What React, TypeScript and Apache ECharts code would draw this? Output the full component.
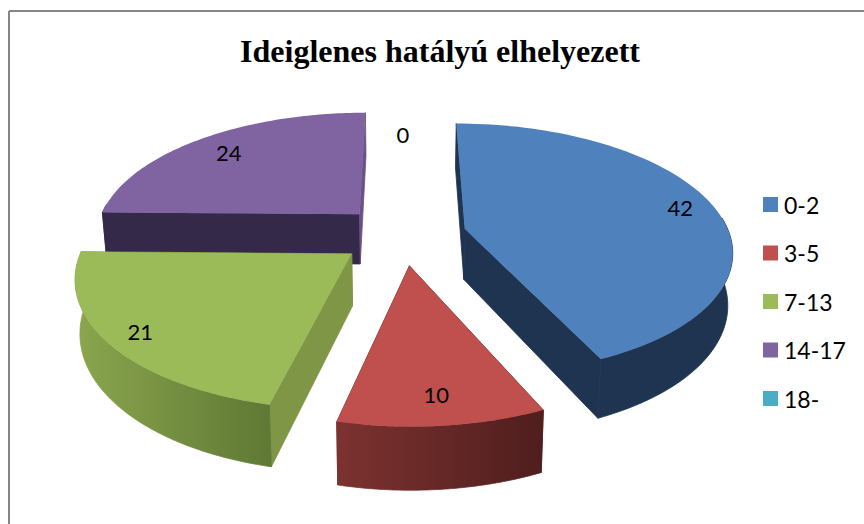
import React, { useEffect, useRef } from "react";
import * as echarts from "echarts";

const titleText = "Ideiglenes hatályú elhelyezett";
const categories = ["0-2", "3-5", "7-13", "14-17", "18-"];
const values = [42, 10, 21, 24, 0];
const topColors = ["#4f81bd", "#c0504d", "#9bbb59", "#8064a2", "#4bacc6"];
const faceColors = ["#1f3450", "#6b2a28", "#7e9645", "#6a5288", "#2f7f94"];
const startFaceColors = ["#1f3450", "#6b2a28", "#7e9645", "#35294a", "#2f7f94"];
const wallFrom = ["#1f3450", "#7c3230", "#8ba64e", "#35294a", "#2f7f94"];
const wallTo = ["#1f3450", "#4f1e1d", "#5f7834", "#35294a", "#2f7f94"];
const labelRadii = [0.87, 0.83, 0.88, 0.81, 0.93];
const paintOrder = [3, 0, 2, 1, 4];

const total = values.reduce((a, b) => a + b, 0);
const starts = values.map((_, i) => values.slice(0, i).reduce((a, b) => a + b, 0));

const CX = 403;
const CY = 235;
const RX = 265;
const RY = 124;
const K = 0.16;
const EXPLODE = 0.24;
const DEPTH = 51;
const SHRINK = 0.985;
const STEPS = 90;

function pt(theta: number, r: number, ex: number, ey: number, lower = false): number[] {
  const X = r * Math.sin(theta) + ex;
  const Y = -r * Math.cos(theta) + ey;
  const s = 1 / (1 - K * Y);
  const x = CX + RX * X * s;
  const y = CY + RY * Y * s;
  if (!lower) return [x, y];
  return [CX + (x - CX) * SHRINK, y + DEPTH * s];
}

function renderSlice(idx: number) {
  return (_params: any, api: any) => {
    const value = api.value(0);
    const start = api.value(1);
    const a0 = (start / total) * Math.PI * 2;
    const a1 = ((start + value) / total) * Math.PI * 2;
    const mid = (a0 + a1) / 2;
    const text = {
      type: "text",
      style: {
        text: String(value),
        fill: "#000",
        fontSize: 22,
        fontFamily: "Lato",
        align: "center",
        verticalAlign: "middle",
      },
    } as any;
    if (value === 0) {
      const p = pt(a0, labelRadii[idx], 0, 0);
      text.style.x = p[0];
      text.style.y = p[1];
      return { type: "group", children: [text] };
    }
    const ex = EXPLODE * Math.sin(mid);
    const ey = -EXPLODE * Math.cos(mid);
    const upper: number[][] = [];
    const lower: number[][] = [];
    const wallUp: number[][] = [];
    const wallDown: number[][] = [];
    for (let i = 0; i <= STEPS; i++) {
      const t = a0 + ((a1 - a0) * i) / STEPS;
      const u = pt(t, 1, ex, ey);
      const l = pt(t, 1, ex, ey, true);
      upper.push(u);
      lower.push(l);
      if (Math.cos(t) <= 0.1) {
        wallUp.push(u);
        wallDown.push(l);
      }
    }
    const apexT = pt(0, 0, ex, ey);
    const apexB = pt(0, 0, ex, ey, true);
    const face = (u: number[], l: number[], fill: string) => ({
      type: "polygon",
      shape: { points: [apexT, u, l, apexB] },
      style: { fill, stroke: fill, lineWidth: 0.8 },
    });
    const children: any[] = [
      face(upper[0], lower[0], startFaceColors[idx]),
      face(upper[STEPS], lower[STEPS], faceColors[idx]),
    ];
    if (wallUp.length > 1) {
      const grad = new echarts.graphic.LinearGradient(0, 0, 1, 0, [
        { offset: 0, color: wallFrom[idx] },
        { offset: 1, color: wallTo[idx] },
      ]);
      children.push({
        type: "polygon",
        shape: { points: [...wallUp, ...wallDown.slice().reverse()] },
        style: { fill: grad, stroke: grad, lineWidth: 0.8 },
      });
    }
    children.push({
      type: "polygon",
      shape: { points: [apexT, ...upper] },
      style: { fill: topColors[idx] },
    });
    const lp = pt(mid, labelRadii[idx], ex, ey);
    text.style.x = lp[0];
    text.style.y = lp[1];
    children.push(text);
    return { type: "group", children };
  };
}

export default function App() {
  const ref = useRef<HTMLDivElement>(null);
  useEffect(() => {
    const chart = echarts.init(ref.current!, null, { renderer: "svg" });
    chart.setOption({
      animation: false,
      backgroundColor: "#fff",
      title: {
        text: titleText,
        left: 435,
        top: 30,
        textAlign: "center",
        textStyle: { fontFamily: "Liberation Serif", fontWeight: "bold", fontSize: 32, color: "#000" },
      },
      legend: {
        orient: "vertical",
        left: 758,
        top: 188,
        icon: "rect",
        itemWidth: 15,
        itemHeight: 15,
        itemGap: 25.5,
        itemStyle: { borderWidth: 0 },
        selectedMode: false,
        data: categories,
        textStyle: { fontFamily: "Lato", fontSize: 23, color: "#000", padding: [0, 0, 0, 1] },
      },
      graphic: [
        { type: "line", shape: { x1: 9, y1: 11, x2: 864, y2: 11 }, style: { stroke: "#868686", lineWidth: 2 } },
        { type: "line", shape: { x1: 9, y1: 11, x2: 9, y2: 524 }, style: { stroke: "#868686", lineWidth: 2 } },
      ],
      series: categories.map((name, i) => ({
        type: "custom",
        name,
        coordinateSystem: "none",
        z: 2 + paintOrder.indexOf(i),
        itemStyle: { color: topColors[i] },
        data: [[values[i], starts[i]]],
        renderItem: renderSlice(i),
      })),
    });
    return () => chart.dispose();
  }, []);
  return <div ref={ref} style={{ position: "absolute", left: 0, top: 0, width: 864, height: 524 }} />;
}
